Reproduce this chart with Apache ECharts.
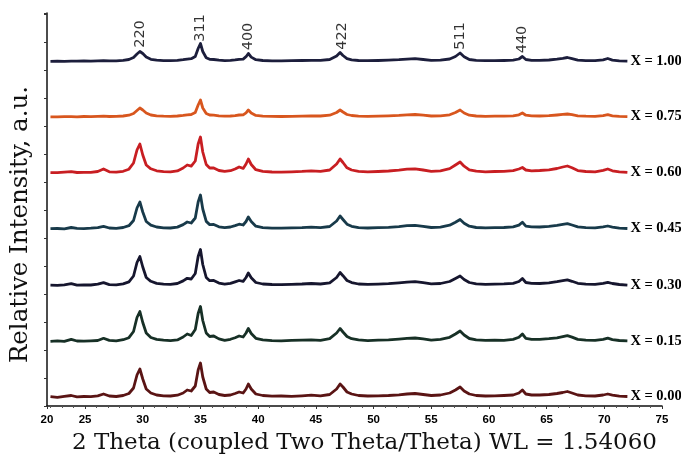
<!DOCTYPE html>
<html>
<head>
<meta charset="utf-8">
<title>XRD patterns</title>
<script src="https://cdn.jsdelivr.net/npm/echarts@6/dist/echarts.min.js"></script>
<style>
  html, body { margin: 0; padding: 0; background: #fff; }
  #chart { width: 681px; height: 457px; }
</style>
</head>
<body>
<div id="chart"></div>
<script>
// 2θ positions (deg), shared by all patterns
var twoTheta = [
  22.0, 22.6, 23.2, 23.8, 24.3, 24.9, 25.5, 26.1, 26.6, 27.1, 27.7,
  28.3, 28.8, 29.2, 29.5, 29.75, 30.0, 30.3, 30.7, 31.2, 31.8, 32.4,
  33.0, 33.5, 33.85, 34.2, 34.55, 34.8, 35.0, 35.2, 35.5, 35.8, 36.15,
  36.6, 37.1, 37.6, 38.0, 38.35, 38.7, 38.95, 39.15, 39.4, 39.8, 40.4,
  41.2, 42.0, 42.9, 43.8, 44.6, 45.4, 46.2, 46.8, 47.1, 47.35, 47.7,
  48.1, 48.7, 49.5, 50.4, 51.3, 52.2, 52.9, 53.6, 54.3, 55.0, 55.8,
  56.6, 57.1, 57.5, 57.85, 58.3, 58.9, 59.7, 60.5, 61.3, 62.1, 62.6,
  62.9, 63.2, 63.7, 64.4, 65.2, 65.9, 66.4, 66.8, 67.2, 67.7, 68.4,
  69.2, 69.9, 70.3, 70.7, 71.3, 72.0
];

// intensity above each pattern's own baseline (a.u.)
var x000 = [
  0.3, -0.4, 0.6, 1.5, 0.2, 0.5, 0.4, 1.2, 3.0, 1.0, 0.5,
  1.5, 3.5, 9, 22, 28, 18, 8, 4, 2, 1.2, 1,
  1.8, 4, 7, 6, 11, 27, 34, 20, 8, 4.5, 5,
  2.5, 1.5, 2, 3.5, 5, 4, 8, 13, 8, 3, 1.5,
  0.8, 1, 0.6, 1.2, 1.8, 1.2, 2.5, 8, 13, 10, 5,
  3, 1.5, 1, 1.2, 1.5, 2.2, 3, 3.5, 2.5, 1.5, 2,
  4, 7, 10, 6, 3, 1.5, 1, 1.2, 1.5, 2, 4,
  7, 3, 2, 2, 2.5, 3.5, 4.5, 5.5, 4, 2, 1.2,
  1, 2, 3, 1.8, 0.8, 0.5
];
var x015 = [
  0.2, 0.6, 0.1, 2.2, 0.5, 0.3, 0.7, 1.0, 3.2, 1.1, 0.6,
  1.8, 3.8, 10, 24, 30, 19, 8.5, 4, 2.2, 1.4, 0.9,
  1.6, 4.5, 7.5, 6, 12, 28, 35, 21, 8.5, 5, 5.5,
  2.6, 1.2, 2.2, 3.8, 5.5, 4.5, 8.5, 13, 8, 3.2, 1.6,
  0.9, 0.7, 1.1, 1.4, 1.6, 1.2, 2.8, 8.5, 13, 9.5, 5,
  2.8, 1.6, 0.9, 1.3, 1.6, 2.4, 3.2, 3.5, 2.6, 1.4, 2.2,
  4.2, 7.5, 10.5, 6.5, 3, 1.7, 1.1, 1.3, 1.2, 2.1, 4.2,
  7.5, 3.2, 2.1, 2.2, 2.8, 3.6, 4.8, 5.8, 4.4, 2.1, 1.3,
  1.1, 2.2, 3.3, 1.9, 1, 0.6
];
var x030 = [
  0.4, 0.2, 0.7, 1.8, 0.3, 0.6, 0.5, 1.3, 2.8, 0.9, 0.7,
  1.6, 3.6, 9.5, 23, 29, 18.5, 8, 4.2, 2.1, 1.3, 1.1,
  2, 4.6, 7.2, 6.5, 12, 29, 36, 21, 8, 4.8, 5,
  2.4, 1.4, 2.1, 3.6, 5, 4.2, 8, 12.5, 7.8, 3, 1.5,
  1, 0.8, 1.2, 1.5, 2, 1.5, 2.6, 8, 13, 9.8, 5,
  2.9, 1.5, 1.1, 1.4, 1.8, 2.6, 3.4, 3.8, 2.8, 1.6, 2,
  4, 7, 9.5, 6, 3, 1.6, 1.2, 1.4, 1.6, 2.2, 4,
  7, 3, 2.2, 2, 2.7, 3.8, 4.8, 5.6, 4.2, 2.2, 1.4,
  1.2, 2.2, 3.2, 2, 1, 0.4
];
var x045 = [
  0.3, 0.5, 0.2, 1.5, 0.6, 0.4, 0.8, 1.4, 2.6, 1.0, 0.6,
  1.5, 3.3, 8.5, 21, 27, 17, 7.5, 3.8, 2, 1.2, 1,
  1.9, 4.4, 7, 6, 11, 27, 34, 20, 7.6, 4.4, 4.6,
  2.2, 1.4, 2, 3.4, 4.8, 4, 7.5, 12, 7.5, 2.8, 1.4,
  0.9, 0.8, 1.1, 1.4, 1.9, 1.4, 2.5, 8, 13, 9.5, 4.8,
  2.7, 1.4, 1, 1.3, 1.7, 2.4, 3.4, 3.6, 2.7, 1.5, 1.9,
  3.8, 6.8, 9.5, 5.8, 2.8, 1.5, 1.1, 1.3, 1.5, 2.1, 3.9,
  6.8, 2.9, 2.1, 2, 2.6, 3.6, 4.6, 5.4, 4, 2.1, 1.3,
  1.1, 2.1, 3, 1.9, 0.9, 0.5
];
var x060 = [
  0.4, 0.3, 0.8, 1.3, 0.5, 0.6, 0.7, 1.5, 4, 1.2, 0.8,
  1.7, 3.8, 10, 23, 29, 18, 8, 4.2, 2.2, 1.4, 1.2,
  2.1, 5, 8, 6.8, 12, 29, 36, 21, 8.5, 5, 5,
  2.5, 1.6, 2.3, 4, 6, 4.6, 9, 14, 8.5, 3.3, 1.6,
  1, 0.8, 1.2, 1.6, 2.2, 1.6, 3, 9, 14, 10.5, 5.2,
  3, 1.6, 1.1, 1.5, 2, 2.8, 3.8, 4.2, 3, 1.7, 2.2,
  4.4, 8, 11, 6.8, 3.2, 1.8, 1.2, 1.5, 1.6, 2.3, 4,
  5.5, 3, 2.2, 2.5, 3.2, 4.5, 6, 7, 5.2, 2.4, 1.5,
  1.2, 2.6, 4, 2.2, 1.1, 0.6
];
var x075 = [
  0.2, 0.1, 0.4, 0.3, 0.2, 0.5, 0.3, 0.6, 0.8, 0.5, 0.6,
  1, 1.8, 3.5, 6.5, 9, 7, 4, 2, 1.2, 0.8, 0.7,
  1, 1.6, 2.2, 2.5, 4.5, 12, 17, 9, 3.5, 2, 1.8,
  1.2, 0.8, 1, 1.4, 2, 2.2, 4.2, 7, 4, 1.6, 0.9,
  0.6, 0.5, 0.7, 0.9, 1.1, 1, 1.8, 4.5, 7, 5, 2.5,
  1.5, 0.9, 0.7, 0.9, 1.2, 1.6, 2.2, 2.5, 1.8, 1, 1.2,
  2.2, 4.5, 7, 4, 1.8, 1, 0.7, 0.8, 0.9, 1.2, 2.2,
  4, 1.8, 1.1, 1, 1.3, 2, 2.6, 3, 2.4, 1.2, 0.8,
  0.7, 1.4, 2.4, 1.2, 0.6, 0.4
];
var x100 = [
  0.2, 0.3, 0.2, 0.4, 0.3, 0.5, 0.4, 0.6, 0.8, 0.6, 0.7,
  1.1, 2, 4, 7.5, 10, 8, 4.5, 2.2, 1.3, 0.9, 0.8,
  1.1, 1.8, 2.4, 2.8, 5, 13, 18, 10, 3.8, 2.2, 2,
  1.3, 0.9, 1.1, 1.6, 2.2, 2.4, 4.8, 8, 4.4, 1.8, 1,
  0.7, 0.6, 0.8, 1, 1.2, 1.1, 2, 5.5, 9, 6, 2.8,
  1.6, 1, 0.8, 1, 1.3, 1.8, 2.4, 2.8, 2, 1.1, 1.3,
  2.5, 5, 8.5, 4.8, 2, 1.1, 0.8, 0.9, 1, 1.3, 2.5,
  5, 2, 1.2, 1.1, 1.5, 2.4, 3.2, 4, 2.8, 1.4, 0.9,
  0.8, 1.6, 3, 1.4, 0.7, 0.4
];

var sampleNames = ['X = 0.00', 'X = 0.15', 'X = 0.30', 'X = 0.45', 'X = 0.60', 'X = 0.75', 'X = 1.00'];
var sampleData = [x000, x015, x030, x045, x060, x075, x100];
// vertical stacking offset of each pattern
var stackOffsets = [9, 64.5, 120.5, 177, 233, 289, 344.5];
var lineColors = ['#5a1414', '#173026', '#16162e', '#183a4a', '#c81e22', '#d8561e', '#1c1e3c'];

// Miller indices marked above the top pattern
var hklLabels = ['220', '311', '400', '422', '511', '440'];
var hklTheta = [29.75, 34.95, 39.15, 47.3, 57.5, 62.9];
var hklHeight = [372, 378, 369.5, 370, 370, 366.5];

var chart = echarts.init(document.getElementById('chart'), null, { renderer: 'canvas' });

var series = [];
for (var i = 0; i < sampleData.length; i++) {
  var pts = [];
  for (var j = 0; j < twoTheta.length; j++) {
    pts.push([twoTheta[j], sampleData[i][j] + stackOffsets[i]]);
  }
  series.push({
    name: sampleNames[i],
    type: 'line',
    data: pts,
    symbol: 'none',
    smooth: false,
    lineStyle: { color: lineColors[i], width: 2.8, join: 'round' },
    z: 3,
    endLabel: {
      show: true,
      formatter: '{a}',
      distance: 3,
      color: '#000',
      fontFamily: 'Liberation Serif',
      fontWeight: 'bold',
      fontSize: 14.5
    }
  });
}

// hkl annotations
series.push({
  type: 'scatter',
  symbolSize: 0,
  silent: true,
  data: hklTheta.map(function (t, k) { return [t, hklHeight[k]]; }),
  label: {
    show: true,
    position: 'inside',
    rotate: 90,
    formatter: function (p) { return hklLabels[p.dataIndex]; },
    color: '#000',
    fontFamily: 'DejaVu Sans',
    fontSize: 14.5
  }
});

var option = {
  animation: false,
  backgroundColor: '#fff',
  grid: { left: 47, right: 19, top: 13, bottom: 51, containLabel: false, outerBoundsMode: 'none' },
  xAxis: {
    type: 'value',
    min: 21.7,
    max: 75,
    minInterval: 5,
    maxInterval: 5,
    name: '2 Theta (coupled Two Theta/Theta) WL = 1.54060',
    nameLocation: 'middle',
    nameGap: 26,
    nameTextStyle: { fontFamily: 'DejaVu Serif', fontSize: 23, color: '#111', padding: [0, 0, 0, 20] },
    axisLine: { lineStyle: { color: '#111', width: 1.5 } },
    axisTick: { show: true, length: 3, lineStyle: { color: '#333' } },
    minorTick: { show: true, splitNumber: 5, length: 2, lineStyle: { color: '#555' } },
    splitLine: { show: false },
    axisLabel: {
      showMinLabel: true,
      margin: 8,
      color: '#000',
      fontFamily: 'Liberation Sans',
      fontWeight: 'bold',
      fontSize: 11.5,
      formatter: function (v) { return v < 25 ? '20' : String(v); }
    }
  },
  yAxis: {
    type: 'value',
    min: 0,
    max: 393,
    interval: 28,
    name: 'Relative Intensity, a.u.',
    nameLocation: 'middle',
    nameGap: 14,
    nameTextStyle: { fontFamily: 'DejaVu Serif', fontSize: 24.5, color: '#111', padding: [0, 30, 0, 0] },
    axisLine: { lineStyle: { color: '#111', width: 1.5 } },
    axisTick: { show: true, length: 3, lineStyle: { color: '#333' } },
    minorTick: { show: false },
    splitLine: { show: false },
    axisLabel: { show: false }
  },
  series: series
};

chart.setOption(option);
</script>
</body>
</html>
